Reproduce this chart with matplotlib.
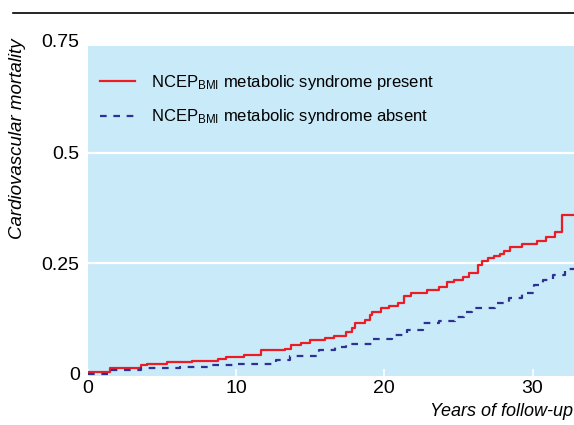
import matplotlib.pyplot as plt
from matplotlib.lines import Line2D

plt.rcParams['font.family'] = ['Liberation Sans Narrow', 'Liberation Sans', 'DejaVu Sans']
plt.rcParams['mathtext.default'] = 'regular'

# step curves (years, cumulative mortality)
present_t = [0, 1.5, 3.6, 4.0, 5.3, 7.0, 8.8, 9.3, 10.5, 11.7, 13.3, 13.7, 14.4, 15.0,
             16.0, 16.6, 17.4, 17.8, 18.0, 18.7, 19.0, 19.2, 19.8, 20.3, 20.9, 21.3,
             21.8, 22.9, 23.7, 24.2, 24.7, 25.3, 25.7, 26.3, 26.6, 27.0, 27.4, 27.8,
             28.1, 28.5, 29.3, 30.3, 30.9, 31.5, 32.0, 32.8]
present_y = [0.005, 0.013, 0.019, 0.023, 0.026, 0.030, 0.034, 0.038, 0.042, 0.054, 0.056,
             0.066, 0.070, 0.077, 0.081, 0.086, 0.095, 0.103, 0.114, 0.122, 0.133, 0.140,
             0.148, 0.154, 0.161, 0.175, 0.184, 0.190, 0.197, 0.207, 0.213, 0.218, 0.229,
             0.247, 0.256, 0.262, 0.266, 0.272, 0.278, 0.287, 0.294, 0.300, 0.310, 0.321,
             0.360, 0.360]

absent_t = [0, 1.5, 3.6, 6.2, 8.2, 10.0, 12.7, 13.6, 15.6, 16.7, 17.4, 19.2, 20.5, 21.5,
            22.6, 23.7, 24.8, 25.4, 25.9, 27.5, 28.4, 29.3, 30.1, 30.7, 31.4, 32.2, 32.8]
absent_y = [0.0, 0.008, 0.012, 0.016, 0.019, 0.023, 0.032, 0.040, 0.054, 0.060, 0.067,
            0.078, 0.088, 0.100, 0.114, 0.120, 0.129, 0.140, 0.148, 0.160, 0.171, 0.182,
            0.201, 0.213, 0.224, 0.237, 0.237]

yticks = [0, 0.25, 0.5]
ytick_labels = ['0', '0.25', '0.5']
xticks = [0, 10, 20, 30]

fig = plt.figure(figsize=(5.74, 4.25), dpi=100)
ax = fig.add_axes([88 / 574, 1 - 376 / 425, 1 - 88 / 574, (376 - 46) / 425])
ax.set_facecolor('#c8eaf9')
for s in ax.spines.values():
    s.set_visible(False)

for g in yticks[1:]:
    ax.axhline(g, color='white', lw=1.6, zorder=1)

ax.step(present_t, present_y, where='post', color='#ed1c24', lw=1.6, zorder=3,
        label='NCEP$_{BMI}$ metabolic syndrome present')
ax.step(absent_t, absent_y, where='post', color='#2e3192', lw=1.6, ls=(0, (3, 3)), zorder=3,
        label='NCEP$_{BMI}$ metabolic syndrome absent')

ax.set_xlim(0, 32.8)
ax.set_ylim(-0.005, 0.742)
ax.set_xticks(xticks)
ax.set_yticks(yticks)
ax.set_yticklabels(ytick_labels)
ax.tick_params(axis='x', direction='in', color='white', length=5, width=1.2,
               labelsize=14, pad=3)
ax.tick_params(axis='y', length=0, labelsize=14, pad=6)
ax.text(-0.017, 0.75, '0.75', transform=ax.get_yaxis_transform(), ha='right', va='center',
        fontsize=14, clip_on=False)

leg = ax.legend(loc='upper left', bbox_to_anchor=(0.0, 0.955), frameon=False, fontsize=12,
                handlelength=2.1, handletextpad=1.0, labelspacing=0.95, borderaxespad=0.3)

fig.add_artist(Line2D([13 / 574, 1], [1 - 13 / 425, 1 - 13 / 425], color='black', lw=1.2))
fig.text(18 / 574, 1 - 38 / 425, 'Cardiovascular mortality', rotation=90, ha='center', va='top',
         fontsize=13.5, style='italic')
fig.text(0.999, 1 - 412 / 425, 'Years of follow-up', ha='right', va='center', fontsize=13,
         style='italic')

fig.savefig('out.png', dpi=100)
